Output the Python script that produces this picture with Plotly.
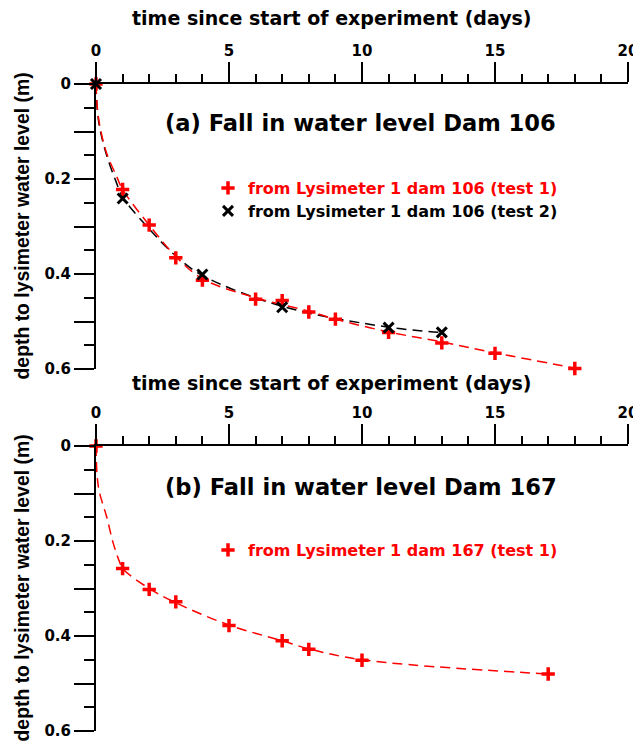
import plotly.graph_objects as go

# The page adds an 8 px body margin at the top-left; the figure fills the rest of the window
PAGE_W, PAGE_H, PAD = 641, 750, 8
W, H = PAGE_W - PAD, PAGE_H - PAD

# ---------------- data ----------------
# Panel (a) Dam 106, test 1
a1_days = [0, 1, 2, 3, 4, 6, 7, 8, 9, 11, 13, 15, 18]
a1_depth = [0.0, 0.222, 0.297, 0.366, 0.413, 0.453, 0.456, 0.480, 0.495, 0.523, 0.545, 0.567, 0.599]
# Panel (a) Dam 106, test 2
a2_days = [0, 1, 4, 7, 11, 13]
a2_depth = [0.0, 0.241, 0.401, 0.470, 0.513, 0.523]
# Panel (b) Dam 167, test 1
b1_days = [0, 1, 2, 3, 5, 7, 8, 10, 17]
b1_depth = [0.0, 0.258, 0.302, 0.328, 0.378, 0.410, 0.428, 0.451, 0.480]

# dashed fitted curves
a1_fit_days = [0, 0.05, 0.15, 0.4, 0.78, 1, 2, 3, 4, 6, 8, 9, 11, 13, 15, 18]
a1_fit_depth = [0.0, 0.05, 0.09, 0.146, 0.195, 0.222, 0.297, 0.363, 0.410, 0.450, 0.478, 0.495, 0.522, 0.543, 0.566, 0.598]
a2_fit_days = [0, 0.05, 0.15, 0.4, 0.75, 1, 2, 3, 4, 7, 11, 13]
a2_fit_depth = [0.0, 0.055, 0.095, 0.15, 0.205, 0.238, 0.305, 0.362, 0.403, 0.468, 0.512, 0.523]
b1_fit_days = [0, 0.04, 0.12, 0.4, 0.65, 0.9, 1, 2, 3, 5, 7, 8, 10, 17]
b1_fit_depth = [0.0, 0.06, 0.095, 0.149, 0.205, 0.246, 0.258, 0.300, 0.330, 0.377, 0.410, 0.427, 0.450, 0.480]

name_a1 = "from Lysimeter 1 dam 106 (test 1)"
name_a2 = "from Lysimeter 1 dam 106 (test 2)"
name_b1 = "from Lysimeter 1 dam 167 (test 1)"

x_major = [0, 5, 10, 15, 20]
y_major = [0, 0.1, 0.2, 0.3, 0.4, 0.5, 0.6]
y_major_text = ["0", "", "0.2", "", "0.4", "", "0.6"]
y_minor = [0.05, 0.15, 0.25, 0.35, 0.45, 0.55]

RED = "#ff0000"
BLACK = "#000000"
HFONT = "DejaVu Sans"
VFONT = "Liberation Sans"

def px(xp):  # page x pixel -> paper fraction
    return (xp - PAD) / W

def py(yp):  # page y pixel -> paper fraction
    return (H - (yp - PAD)) / H

fig = go.Figure()

def line_trace(x, y, color, xa, ya):
    return go.Scatter(x=x, y=y, mode="lines", line=dict(color=color, width=1.5, dash="10px,6px", shape="spline"),
                      xaxis=xa, yaxis=ya, showlegend=False, hoverinfo="skip", cliponaxis=False)

fig.add_trace(line_trace(a2_fit_days, a2_fit_depth, BLACK, "x", "y"))
fig.add_trace(line_trace(a1_fit_days, a1_fit_depth, RED, "x", "y"))
fig.add_trace(line_trace(b1_fit_days, b1_fit_depth, RED, "x2", "y2"))

fig.add_trace(go.Scatter(x=a1_days, y=a1_depth, mode="markers", xaxis="x", yaxis="y",
                         marker=dict(symbol="cross-thin", size=9.5, color=RED, line=dict(color=RED, width=3.5)),
                         name=f"<span style='color:{RED}'>{name_a1}</span>", legend="legend",
                         cliponaxis=False))
fig.add_trace(go.Scatter(x=a2_days, y=a2_depth, mode="markers", xaxis="x", yaxis="y",
                         marker=dict(symbol="x-thin", size=10, color=BLACK, line=dict(color=BLACK, width=3)),
                         name=name_a2, legend="legend2", cliponaxis=False))
fig.add_trace(go.Scatter(x=b1_days, y=b1_depth, mode="markers", xaxis="x2", yaxis="y2",
                         marker=dict(symbol="cross-thin", size=9.5, color=RED, line=dict(color=RED, width=3.5)),
                         name=f"<span style='color:{RED}'>{name_b1}</span>", legend="legend3",
                         cliponaxis=False))

xdom = [px(96), px(628)]
ya_dom = [py(369), py(84)]
yb_dom = [py(731), py(446)]

def xaxis_cfg(anchor):
    return dict(domain=xdom, anchor=anchor, side="top", range=[0, 20], tickmode="array", tickvals=x_major,
                ticks="outside", ticklen=20, tickwidth=2, tickcolor=BLACK, automargin=False,
                ticklabeloverflow="allow",
                showline=True, linewidth=2, linecolor=BLACK, showgrid=False, zeroline=False,
                tickfont=dict(family=HFONT, size=15, color=BLACK, weight="bold"),
                minor=dict(dtick=1, tick0=0, ticks="outside", ticklen=8, tickwidth=2, tickcolor=BLACK, showgrid=False))

def yaxis_cfg(anchor, dom):
    return dict(domain=dom, anchor=anchor, range=[0.6, 0], tickmode="array", tickvals=y_major, ticktext=y_major_text,
                ticks="outside", ticklen=20, tickwidth=2, tickcolor=BLACK, automargin=False,
                ticklabeloverflow="allow",
                showline=True, linewidth=2, linecolor=BLACK, showgrid=False, zeroline=False,
                tickfont=dict(family=HFONT, size=15, color=BLACK, weight="bold"),
                minor=dict(tickmode="array", tickvals=y_minor, ticks="outside", ticklen=10, tickwidth=2,
                           tickcolor=BLACK, showgrid=False))

legend_common = dict(font=dict(family=HFONT, size=16, color=BLACK, weight="bold"), bgcolor="rgba(0,0,0,0)",
                     xanchor="left", yanchor="middle", itemclick=False, itemdoubleclick=False)

fig.update_layout(
    width=W, height=H, margin=dict(l=0, r=0, t=0, b=0, autoexpand=False),
    paper_bgcolor="white", plot_bgcolor="white",
    xaxis=xaxis_cfg("y"), yaxis=yaxis_cfg("x", ya_dom),
    xaxis2=xaxis_cfg("y2"), yaxis2=yaxis_cfg("x2", yb_dom),
    legend=dict(x=px(208), y=py(188), **legend_common),
    legend2=dict(x=px(208), y=py(211), **legend_common),
    legend3=dict(x=px(208), y=py(550), **legend_common),
    showlegend=True,
)

def ann(text, xp, yp, size, family=HFONT, angle=0):
    fig.add_annotation(text=text, x=px(xp), y=py(yp), xref="paper", yref="paper",
                       xanchor="center", yanchor="middle", showarrow=False, textangle=angle,
                       font=dict(family=family, size=size, color=BLACK, weight="bold"))

ann("time since start of experiment (days)", 331.5, 18, 19)
ann("time since start of experiment (days)", 331.5, 383, 19)
ann("(a) Fall in water level Dam 106", 361, 123, 22.6)
ann("(b) Fall in water level Dam 167", 361, 487, 22.6)
ann("depth to lysimeter water level (m)", 21, 226.5, 19.4, family=VFONT, angle=-90)
ann("depth to lysimeter water level (m)", 21, 588.5, 19.4, family=VFONT, angle=-90)

fig.write_html("out.html", config={"responsive": False})
